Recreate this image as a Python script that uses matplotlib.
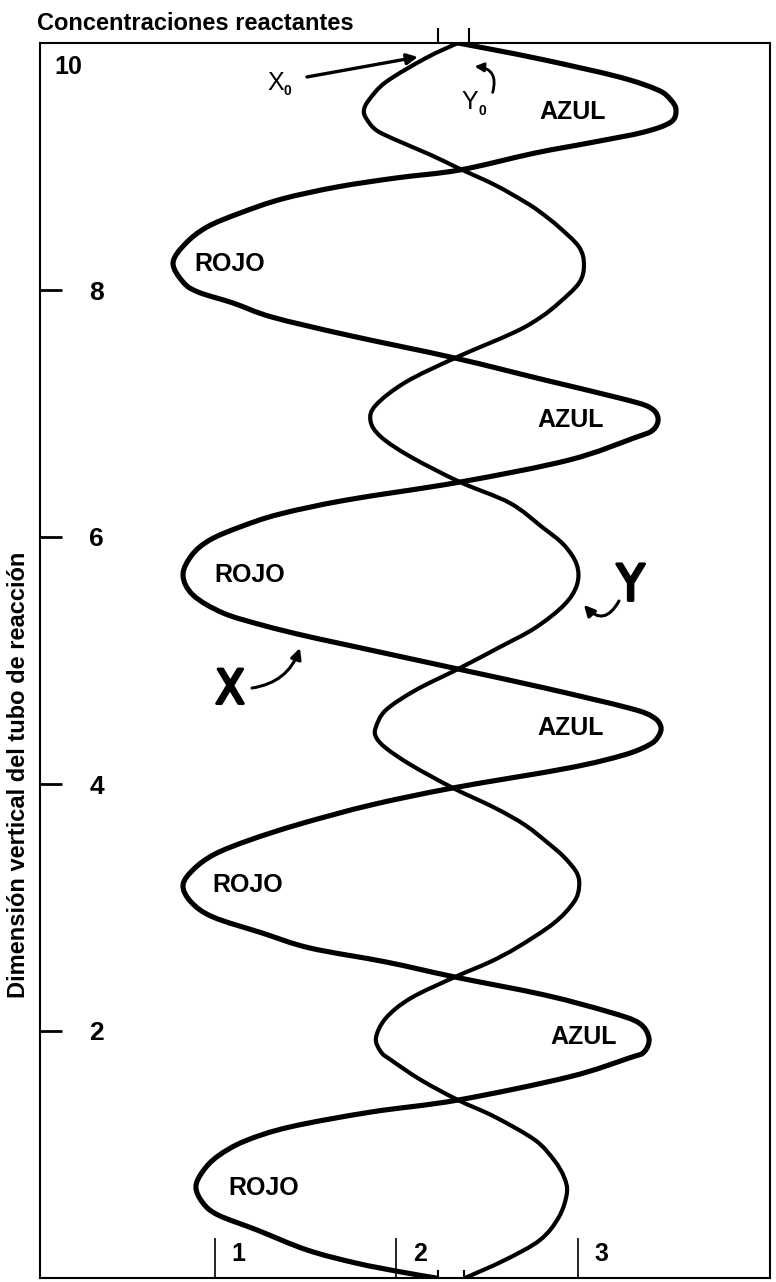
import matplotlib
matplotlib.use('Agg')
import matplotlib.pyplot as plt
import matplotlib.patheffects as pe
from matplotlib.patches import FancyArrowPatch, PathPatch
from matplotlib.path import Path

W, H = 776, 1282
plt.rcParams['font.family'] = ['Liberation Sans', 'DejaVu Sans']

# ---- data ----
x_curve_x = [2.339, 2.543, 2.818, 3.226, 3.441, 3.512, 3.540, 3.512, 3.364, 3.088, 2.763, 2.350,
             1.997, 1.672, 1.369, 1.138, 0.956, 0.835, 0.769, 0.824, 0.906, 1.099, 1.314, 1.727,
             2.322, 2.818, 3.226, 3.391, 3.441, 3.413, 3.309, 2.950, 2.350, 1.727, 1.358, 1.138,
             0.972, 0.873, 0.824, 0.879, 1.044, 1.259, 1.479, 1.727, 2.339, 2.818, 3.281, 3.413,
             3.457, 3.441, 3.391, 3.253, 2.950, 2.311, 1.860, 1.468, 1.193, 1.000, 0.884, 0.824,
             0.868, 0.989, 1.259, 1.523, 1.942, 2.322, 2.818, 3.171, 3.336, 3.391, 3.364, 3.281,
             2.950, 2.339, 1.860, 1.413, 1.165, 1.017, 0.934, 0.895, 0.934, 1.017, 1.231, 1.507,
             1.777, 2.025, 2.218]
x_curve_y = [10.000, 9.943, 9.862, 9.725, 9.619, 9.538, 9.457, 9.360, 9.279, 9.198, 9.109, 8.972,
             8.907, 8.834, 8.737, 8.623, 8.510, 8.372, 8.219, 8.065, 7.984, 7.895, 7.781, 7.636,
             7.449, 7.271, 7.126, 7.053, 6.964, 6.866, 6.802, 6.623, 6.445, 6.300, 6.186, 6.081,
             5.976, 5.854, 5.692, 5.530, 5.385, 5.287, 5.206, 5.126, 4.931, 4.777, 4.615, 4.543,
             4.462, 4.381, 4.316, 4.235, 4.130, 3.968, 3.830, 3.676, 3.547, 3.433, 3.312, 3.182,
             3.045, 2.923, 2.794, 2.672, 2.559, 2.437, 2.291, 2.154, 2.065, 1.943, 1.830, 1.781,
             1.628, 1.441, 1.344, 1.223, 1.109, 0.988, 0.866, 0.737, 0.607, 0.510, 0.389, 0.227,
             0.121, 0.049, 0.0]

y_curve_x = [2.339, 2.163, 1.942, 1.848, 1.821, 1.832, 1.887, 1.997, 2.190, 2.339, 2.543, 2.708,
             2.791, 2.895, 3.006, 3.033, 3.006, 2.895, 2.796, 2.653, 2.322, 2.052, 1.887, 1.857,
             1.915, 2.080, 2.350, 2.625, 2.802, 2.923, 2.994, 2.994, 2.923, 2.763, 2.570, 2.339,
             2.107, 1.942, 1.887, 1.887, 1.942, 2.080, 2.311, 2.543, 2.708, 2.835, 2.923, 2.994,
             3.006, 2.978, 2.868, 2.669, 2.515, 2.322, 2.080, 1.942, 1.887, 1.915, 1.970, 2.135,
             2.339, 2.543, 2.763, 2.868, 2.923, 2.939, 2.895, 2.791, 2.598, 2.377]
y_curve_y = [10.000, 9.879, 9.684, 9.538, 9.457, 9.393, 9.296, 9.215, 9.093, 8.988, 8.850, 8.713,
             8.632, 8.510, 8.348, 8.202, 8.057, 7.895, 7.781, 7.660, 7.449, 7.255, 7.069, 6.940,
             6.810, 6.648, 6.445, 6.275, 6.081, 5.935, 5.773, 5.611, 5.449, 5.263, 5.109, 4.931,
             4.761, 4.599, 4.462, 4.381, 4.291, 4.154, 3.968, 3.806, 3.668, 3.522, 3.409, 3.279,
             3.166, 3.045, 2.874, 2.680, 2.559, 2.437, 2.267, 2.105, 1.943, 1.830, 1.765, 1.603,
             1.441, 1.304, 1.117, 0.955, 0.818, 0.688, 0.494, 0.308, 0.146, 0.0]

y_ticks = [2, 4, 6, 8]
y_tick_labels = ['2', '4', '6', '8']
top_label = '10'
x_ticks = [1, 2, 3]
x_tick_labels = ['1', '2', '3']

rojo_x = [1.08, 1.19, 1.18, 1.27]
rojo_y = [8.21, 5.69, 3.18, 0.73]
azul_x = [2.97, 2.96, 2.96, 3.03]
azul_y = [9.44, 6.95, 4.45, 1.95]

top_marks_x = [2.23, 2.40]
bottom_marks_x = [2.23, 2.37]

title = 'Concentraciones reactantes'
ylabel = 'Dimensión vertical del tubo de reacción'

# ---- figure ----
fig = plt.figure(figsize=(W / 100, H / 100), dpi=100)
ax = fig.add_axes([40 / W, 1 - 1278 / H, (770 - 40) / W, (1278 - 43) / H])
ax.set_xlim(0.036, 4.058)
ax.set_ylim(0, 10)
for s in ax.spines.values():
    s.set_linewidth(1.5)


def smooth_path(xs, ys):
    """Cubic Bezier path passing through the read points (drawing only)."""
    pts = list(zip(xs, ys))
    n = len(pts)
    verts = [pts[0]]
    codes = [Path.MOVETO]
    for i in range(n - 1):
        p0 = pts[i - 1] if i > 0 else pts[i]
        p1 = pts[i]
        p2 = pts[i + 1]
        p3 = pts[i + 2] if i + 2 < n else pts[i + 1]
        c1 = (p1[0] + (p2[0] - p0[0]) / 6, p1[1] + (p2[1] - p0[1]) / 6)
        c2 = (p2[0] - (p3[0] - p1[0]) / 6, p2[1] - (p3[1] - p1[1]) / 6)
        verts += [c1, c2, p2]
        codes += [Path.CURVE4] * 3
    return Path(verts, codes)


ax.add_patch(PathPatch(smooth_path(x_curve_x, x_curve_y), facecolor='none',
                       edgecolor='black', lw=3.7, capstyle='round', joinstyle='round'))
ax.add_patch(PathPatch(smooth_path(y_curve_x, y_curve_y), facecolor='none',
                       edgecolor='black', lw=3.0, capstyle='round', joinstyle='round'))

# y ticks (inside, labels inside)
ax.set_yticks(y_ticks, y_tick_labels)
ax.tick_params(axis='y', direction='in', length=16, width=2.0, pad=-46, labelsize=19)
for t in ax.get_yticklabels():
    t.set_fontweight('bold')
ax.text(0.267, 9.806, top_label, ha='right', va='center', fontsize=18, fontweight='bold')

# x ticks (inside from bottom, labels to the right)
ax.set_xticks(x_ticks, [])
ax.tick_params(axis='x', direction='in', length=29, width=1.2)
for xt, lab in zip(x_ticks, x_tick_labels):
    ax.annotate(lab, (xt, 0), xytext=(12, 17), textcoords='offset points',
                ha='left', va='center', fontsize=18, fontweight='bold')

ax.vlines(top_marks_x, 10, 10.12, color='black', lw=1.5, clip_on=False)
ax.vlines(bottom_marks_x, 0, 0.065, color='black', lw=1.5)

for x, y in zip(rojo_x, rojo_y):
    ax.text(x, y, 'ROJO', ha='center', va='center', fontsize=18, fontweight='bold')
for x, y in zip(azul_x, azul_y):
    ax.text(x, y, 'AZUL', ha='center', va='center', fontsize=18, fontweight='bold')

# initial value labels
ax.text(1.336, 9.676, 'X', ha='center', va='center', fontsize=18)
ax.text(1.40, 9.61, '0', ha='center', va='center', fontsize=10, fontweight='bold')
ax.text(2.405, 9.522, 'Y', ha='center', va='center', fontsize=18)
ax.text(2.475, 9.45, '0', ha='center', va='center', fontsize=10, fontweight='bold')


def arrow(p0, p1, rad, lw=2.2, ms=16):
    a = FancyArrowPatch(p0, p1, connectionstyle=f'arc3,rad={rad}', arrowstyle='-|>',
                        mutation_scale=ms, lw=lw, color='black', shrinkA=0, shrinkB=0)
    ax.add_patch(a)


arrow((1.507, 9.725), (2.118, 9.887), 0.0, lw=2.4)
arrow((2.53, 9.60), (2.43, 9.81), 0.6, lw=2.0, ms=13)

# big handwritten X and Y
thick = [pe.withStroke(linewidth=2.2, foreground='black')]
ax.text(1.083, 4.753, 'X', ha='center', va='center', fontsize=34,
        family='DejaVu Sans', fontstretch='condensed', path_effects=thick)
arrow((1.204, 4.777), (1.468, 5.101), 0.3)
ax.text(3.29, 5.60, 'Y', ha='center', va='center', fontsize=36,
        family='DejaVu Sans', fontstretch='condensed', path_effects=thick)
arrow((3.226, 5.482), (3.033, 5.45), -0.7)

fig.text(37 / W, 1 - 24 / H, title, ha='left', va='center', fontsize=17, fontweight='bold')
fig.text(19 / W, 1 - 775 / H, ylabel, ha='center', va='center', rotation=90,
         fontsize=17, fontweight='bold')

fig.savefig('out.png', dpi=100)
